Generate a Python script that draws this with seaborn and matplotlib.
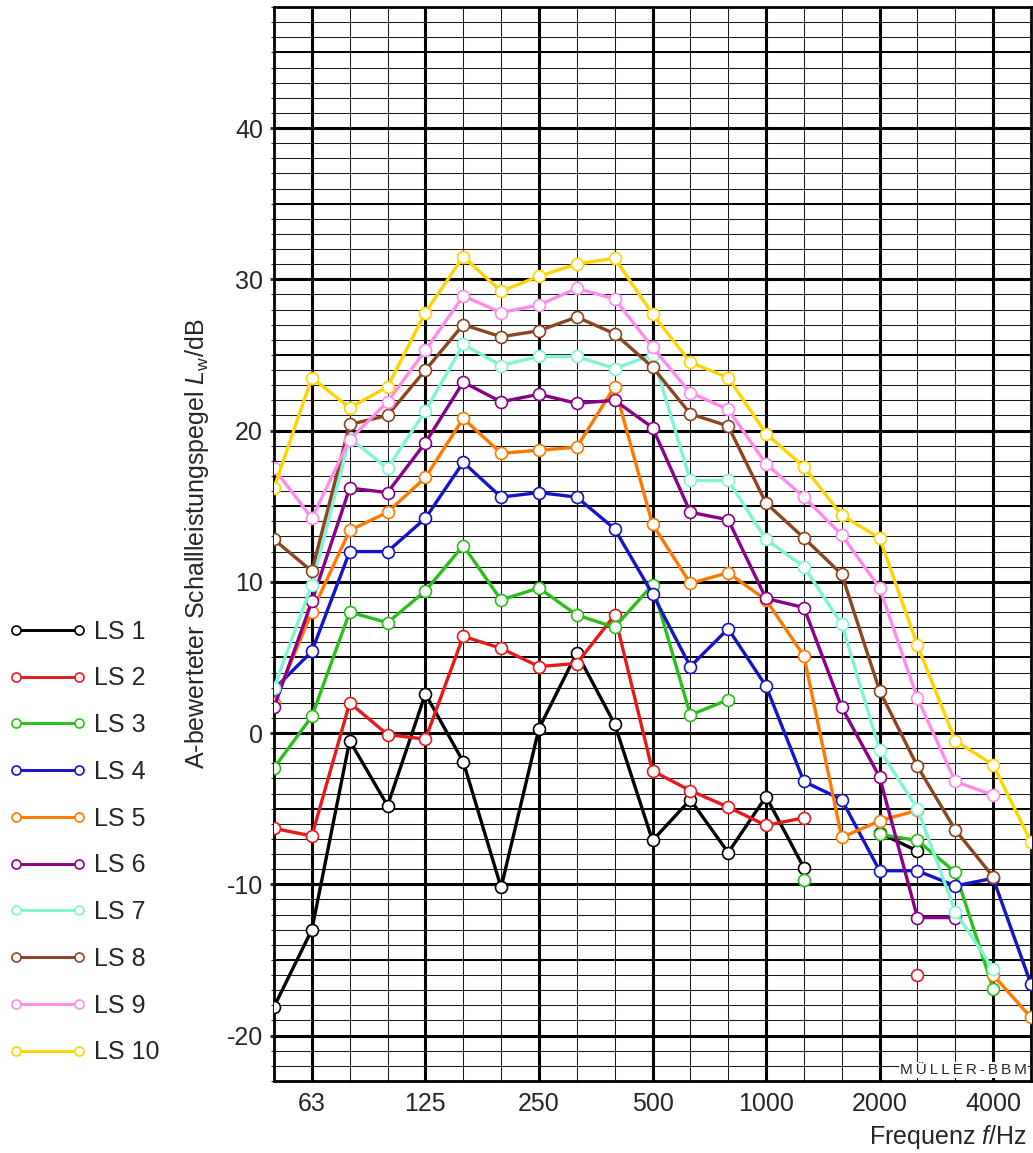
import numpy as np
import pandas as pd
import matplotlib
matplotlib.use("Agg")
import matplotlib.pyplot as plt
from matplotlib.lines import Line2D
from matplotlib.ticker import MultipleLocator, FixedLocator
import seaborn as sns

nan = np.nan

# Third-octave band centre frequencies (Hz)
bands = ["50", "63", "80", "100", "125", "160", "200", "250", "315", "400", "500",
         "630", "800", "1000", "1250", "1600", "2000", "2500", "3150", "4000", "5000"]
octave_labels = ["63", "125", "250", "500", "1000", "2000", "4000"]

series_names = ["LS 1", "LS 2", "LS 3", "LS 4", "LS 5",
                "LS 6", "LS 7", "LS 8", "LS 9", "LS 10"]

ls1 = [-18.1, -13.0, -0.5, -4.8, 2.6, -1.9, -10.2, 0.3, 5.3, 0.6, -7.1,
       -4.4, -7.9, -4.2, -8.9, nan, -6.6, -7.8, nan, nan, nan]
ls2 = [-6.3, -6.8, 2.0, -0.1, -0.4, 6.4, 5.6, 4.4, 4.6, 7.8, -2.5,
       -3.8, -4.9, -6.1, -5.6, nan, nan, -16.0, nan, nan, nan]
ls3 = [-2.3, 1.1, 8.0, 7.3, 9.4, 12.4, 8.8, 9.6, 7.8, 7.0, 9.8,
       1.2, 2.2, nan, -9.7, nan, -6.7, -7.1, -9.2, -16.9, nan]
ls4 = [2.9, 5.4, 12.0, 12.0, 14.2, 17.9, 15.6, 15.9, 15.6, 13.5, 9.2,
       4.4, 6.9, 3.1, -3.2, -4.4, -9.1, -9.1, -10.1, -9.6, -16.6]
ls5 = [2.0, 8.0, 13.4, 14.6, 16.9, 20.8, 18.5, 18.7, 18.9, 22.9, 13.8,
       9.9, 10.6, 8.8, 5.1, -6.9, -5.8, -5.1, nan, -16.0, -18.8]
ls6 = [1.7, 8.7, 16.2, 15.9, 19.2, 23.2, 21.9, 22.4, 21.8, 22.0, 20.2,
       14.6, 14.1, 8.9, 8.3, 1.7, -2.9, -12.2, -12.2, nan, nan]
ls7 = [3.0, 9.8, 19.5, 17.5, 21.3, 25.7, 24.3, 24.9, 24.9, 24.1, 25.0,
       16.7, 16.7, 12.8, 11.0, 7.2, -1.1, -5.0, -11.8, -15.6, nan]
ls8 = [12.8, 10.7, 20.4, 21.0, 24.0, 27.0, 26.2, 26.6, 27.5, 26.4, 24.2,
       21.1, 20.3, 15.2, 12.9, 10.5, 2.8, -2.2, -6.4, -9.5, nan]
ls9 = [17.5, 14.2, 19.4, 21.9, 25.3, 28.9, 27.8, 28.3, 29.4, 28.7, 25.5,
       22.5, 21.4, 17.8, 15.6, 13.1, 9.6, 2.3, -3.2, -4.1, nan]
ls10 = [16.2, 23.5, 21.5, 22.9, 27.8, 31.5, 29.2, 30.2, 31.0, 31.4, 27.7,
        24.5, 23.5, 19.8, 17.6, 14.4, 12.9, 5.8, -0.5, -2.1, -7.2]

all_values = [ls1, ls2, ls3, ls4, ls5, ls6, ls7, ls8, ls9, ls10]

colors = ["#000000", "#e8191c", "#2cbf1c", "#1414c8", "#ff7800",
          "#8b008b", "#7ff5d4", "#8b4520", "#ff8cec", "#ffd400"]

# ---- long-form table; gaps split lines into separate units ----
rows = []
for name, vals in zip(series_names, all_values):
    seg = 0
    for i, v in enumerate(vals):
        if np.isnan(v):
            seg += 1
            continue
        rows.append({"idx": i, "band": bands[i], "val": v,
                     "series": name, "seg": f"{name}_{seg}"})
df = pd.DataFrame(rows)

sns.set_style("white")
plt.rcParams["font.family"] = ["Liberation Sans", "DejaVu Sans"]
plt.rcParams["mathtext.fontset"] = "custom"
plt.rcParams["mathtext.rm"] = "Liberation Sans"
plt.rcParams["mathtext.it"] = "Liberation Sans:italic"
plt.rcParams["mathtext.bf"] = "Liberation Sans:bold"
plt.rcParams["axes.unicode_minus"] = False

W, H = 1033, 1153
fig = plt.figure(figsize=(W / 100, H / 100), dpi=100)
ax = fig.add_axes([274 / W, 1 - 1081 / H, 757 / W, 1074 / H])

palette = dict(zip(series_names, colors))
sns.lineplot(data=df, x="idx", y="val", hue="series", hue_order=series_names,
             units="seg", estimator=None, palette=palette, sort=True,
             marker="o", markersize=8.6, markeredgewidth=1.2,
             linewidth=2.4, legend=False, ax=ax, zorder=3)
for ln in ax.lines:
    ln.set_markerfacecolor("white")
    ln.set_markeredgecolor(ln.get_color())

ax.set_xlim(0, len(bands) - 1)
ax.set_ylim(-23, 48)

octave_idx = [bands.index(b) for b in octave_labels]
ax.xaxis.set_major_locator(FixedLocator(octave_idx))
ax.set_xticks(octave_idx)
ax.set_xticklabels(octave_labels)
ax.xaxis.set_minor_locator(MultipleLocator(1))
ax.yaxis.set_major_locator(MultipleLocator(10))
ax.yaxis.set_minor_locator(MultipleLocator(1))

ax.grid(which="major", color="black", linewidth=2.2, zorder=1)
ax.grid(which="minor", color="#1a1a1a", linewidth=0.75, zorder=1)
for v in range(-15, 48, 10):
    ax.axhline(v, color="black", linewidth=1.4, zorder=1)
ax.set_axisbelow(True)

for sp in ax.spines.values():
    sp.set_visible(True)
    sp.set_color("black")
    sp.set_linewidth(2.0)

ax.tick_params(axis="x", which="both", length=0, pad=8, labelsize=18)
ax.tick_params(axis="y", which="major", length=3, width=2, pad=5,
               labelsize=18, left=True, direction="out")
ax.tick_params(axis="y", which="minor", length=2, width=0.8, left=True,
               direction="out")

ax.set_xlabel(r"Frequenz $f$/Hz", fontsize=18, ha="right", va="center")
ax.xaxis.set_label_coords((1027 - 274) / 757, (1081 - 1137) / 1074)
ax.set_ylabel(r"A-bewerteter Schallleistungspegel $L_\mathrm{w}$/dB",
              fontsize=18, va="center")
ax.yaxis.set_label_coords((197 - 274) / 757, 0.5)

ax.text((1027 - 274) / 757, (1081 - 1070) / 1074,
        "\u2009".join("MÜLLER-BBM"),
        transform=ax.transAxes, ha="right", va="center", fontsize=11,
        zorder=5, bbox=dict(facecolor="white", edgecolor="none", pad=0.5))

handles = [Line2D([], [], color=c, lw=2.1, marker="o", ms=6.5,
                  mfc="white", mec=c, mew=1.2) for c in colors]
fig.legend(handles, series_names, loc="center left",
           bbox_to_anchor=(8.5 / W, 1 - 842 / H), frameon=False,
           numpoints=2, handlelength=3.1, handletextpad=0.34,
           labelspacing=0.91, borderpad=0, borderaxespad=0, fontsize=18)

fig.savefig("out.png", dpi=100)
